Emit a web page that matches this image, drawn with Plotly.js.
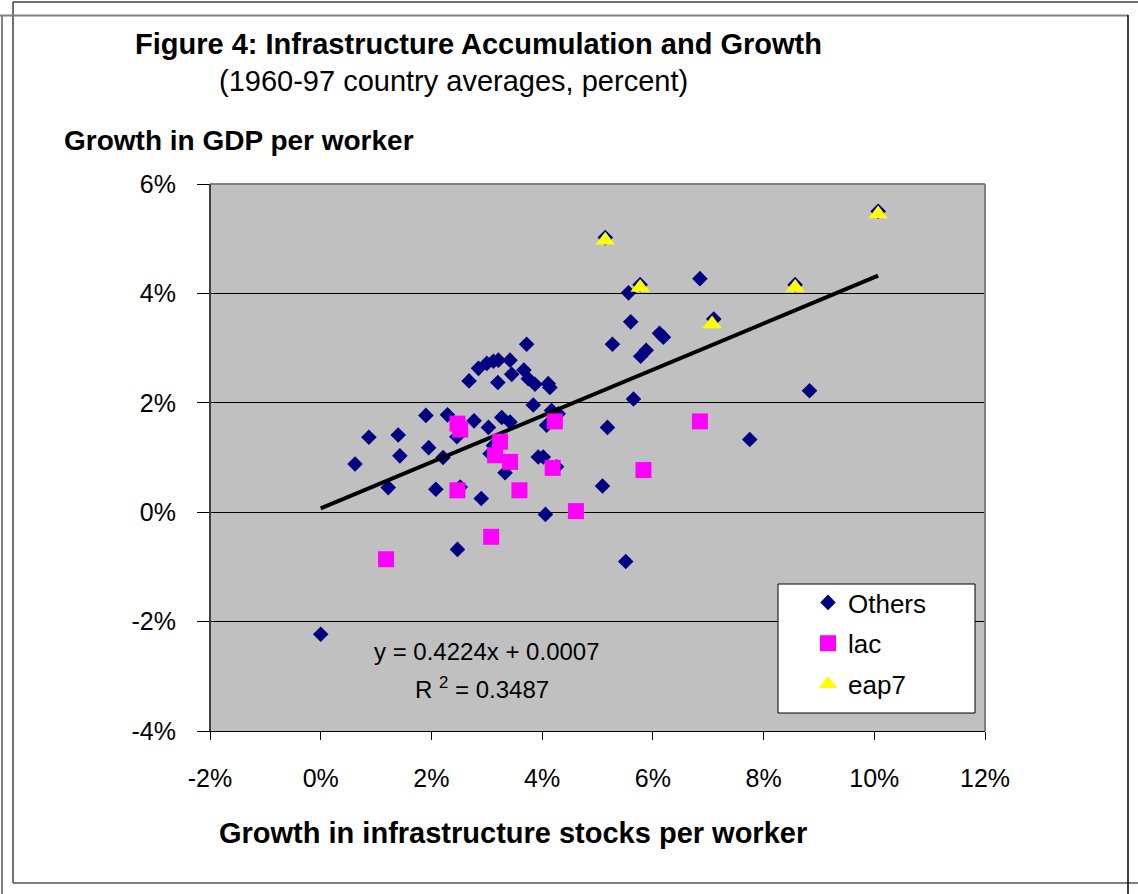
<!DOCTYPE html>
<html>
<head>
<meta charset="utf-8">
<script src="https://cdn.plot.ly/plotly-3.0.1.min.js"></script>
<style>
html,body{margin:0;padding:0;background:#fff;}
#chart{width:1138px;height:894px;}
</style>
</head>
<body>
<div id="chart"></div>
<script>
// ---- data (percent) ----
const othersX = [0.00,0.62,0.87,1.22,1.40,1.43,1.90,1.95,2.08,2.21,2.29,2.46,2.52,2.47,2.68,2.77,2.85,2.90,3.00,3.03,3.06,3.12,3.12,3.21,3.20,3.27,3.33,3.42,3.42,3.45,3.67,3.72,3.75,3.84,3.87,3.93,4.02,4.06,4.08,4.11,4.14,4.17,4.26,4.29,5.09,5.18,5.27,5.51,5.56,5.60,5.65,5.78,5.88,6.12,6.19,6.85,7.10,7.75,8.83,5.14,5.77,8.57,10.07];
const othersY = [-2.23,0.88,1.37,0.45,1.41,1.03,1.77,1.18,0.42,1.00,1.78,1.38,0.46,-0.68,2.40,1.67,2.63,0.25,2.72,1.55,1.07,1.22,2.76,2.78,2.37,1.73,0.72,2.78,1.65,2.52,2.60,3.07,2.44,1.96,2.34,1.01,1.01,-0.04,1.59,2.35,2.28,1.86,0.83,1.80,0.48,1.55,3.07,-0.90,4.01,3.48,2.07,2.85,2.96,3.27,3.20,4.27,3.53,1.33,2.22,5.02,4.16,4.16,5.50];
const lacX = [1.18,2.47,2.52,2.47,3.08,3.15,3.24,3.42,3.59,4.19,4.23,4.61,5.83,6.85];
const lacY = [-0.86,1.62,1.51,0.40,-0.45,1.04,1.29,0.92,0.40,0.81,1.66,0.02,0.77,1.66];
const eapX = [5.14,5.77,7.07,8.57,10.07];
const eapY = [4.97,4.11,3.44,4.11,5.45];
const trendSlope = 0.4224;
const trendIntercept = 0.07; // 0.0007 as a fraction = 0.07 percent
const trendX = [0, 10.07];
const trendY = trendX.map(v => trendSlope * v + trendIntercept);
const xTickVals = [-2,0,2,4,6,8,10,12];
const xTickText = ['-2%','0%','2%','4%','6%','8%','10%','12%'];
const yTickVals = [-4,-2,0,2,4,6];
const yTickText = ['-4%','-2%','0%','2%','4%','6%'];
const seriesNames = ['Others','lac','eap7'];

// ---- layout helpers (pixel -> paper) ----
const W = 1138, H = 894, L = 210, R = 153, T = 184, B = 163;
const PW = W - L - R, PH = H - T - B;
const px = v => (v - L) / PW;
const py = v => (H - B - v) / PH;
const FONT = '"Liberation Sans", Arial, sans-serif';

const traces = [
  {x: othersX, y: othersY, name: seriesNames[0], legendgroup: 'g1', type: 'scatter', mode: 'markers',
   marker: {symbol: 'diamond', color: '#000080', size: 12, line: {width: 0}}},
  {x: trendX, y: trendY, type: 'scatter', mode: 'lines', showlegend: false, hoverinfo: 'skip', legendgroup: 'g0',
   line: {color: '#000000', width: 4}},
  {x: lacX, y: lacY, name: seriesNames[1], legendgroup: 'g2', type: 'scatter', mode: 'markers',
   marker: {symbol: 'square', color: '#ff00ff', size: 16, line: {width: 0}}},
  {x: eapX, y: eapY, name: seriesNames[2], legendgroup: 'g3', type: 'scatter', mode: 'markers',
   marker: {symbol: 'triangle-up', color: '#ffff00', size: 17, line: {width: 0}}}
];

const layout = {
  width: W, height: H, autosize: false,
  margin: {l: L, r: R, t: T, b: B, pad: 0},
  paper_bgcolor: '#ffffff', plot_bgcolor: '#c0c0c0',
  font: {family: FONT, color: '#000', size: 26},
  showlegend: true,
  legend: {x: px(778), y: py(579), xanchor: 'left', yanchor: 'top', xref: 'paper', yref: 'paper',
           bgcolor: 'rgba(0,0,0,0)', borderwidth: 0, font: {family: FONT, size: 26, color: '#000'},
           indentation: 30, traceorder: 'grouped', tracegroupgap: 4, itemclick: false},
  xaxis: {range: [-2, 12], tickmode: 'array', tickvals: xTickVals, ticktext: xTickText,
          showgrid: false, zeroline: false, showline: true, linecolor: '#000', linewidth: 1,
          ticks: 'outside', ticklen: 8, tickcolor: '#000', tickwidth: 1,
          ticklabelstandoff: 17, tickfont: {family: FONT, size: 25, color: '#000'}},
  yaxis: {range: [-4, 6], tickmode: 'array', tickvals: yTickVals, ticktext: yTickText,
          showgrid: true, gridcolor: '#000', gridwidth: 1, zeroline: false,
          showline: true, linecolor: '#000', linewidth: 1,
          ticks: 'outside', ticklen: 12, tickcolor: '#000', tickwidth: 1,
          ticklabelstandoff: 16, tickfont: {family: FONT, size: 25, color: '#000'}},
  shapes: [
    // plot area border top/right (gray), left axis darker
    {type: 'line', xref: 'paper', yref: 'paper', x0: 0, x1: 1, y0: 1, y1: 1, line: {color: '#808080', width: 2}, layer: 'above'},
    {type: 'line', xref: 'paper', yref: 'paper', x0: 1, x1: 1, y0: 0, y1: 1, line: {color: '#808080', width: 2}, layer: 'above'},
    {type: 'line', xref: 'paper', yref: 'paper', x0: 0, x1: 0, y0: 0, y1: 1, line: {color: '#404040', width: 2}, layer: 'above'},
    // legend box
    {type: 'rect', xref: 'paper', yref: 'paper', x0: px(778), x1: px(975), y0: py(713), y1: py(584),
     fillcolor: '#ffffff', line: {color: '#000', width: 1}, layer: 'above'},
    // outer frames
    {type: 'line', xref: 'paper', yref: 'paper', x0: px(13), x1: px(1138), y0: py(2), y1: py(2), line: {color: '#404040', width: 1.5}},
    {type: 'line', xref: 'paper', yref: 'paper', x0: px(13), x1: px(13), y0: py(2), y1: py(883), line: {color: '#404040', width: 1.5}},
    {type: 'line', xref: 'paper', yref: 'paper', x0: px(0), x1: px(1128), y0: py(15.5), y1: py(15.5), line: {color: '#808080', width: 2}},
    {type: 'line', xref: 'paper', yref: 'paper', x0: px(2), x1: px(2), y0: py(15), y1: py(894), line: {color: '#808080', width: 2}},
    {type: 'line', xref: 'paper', yref: 'paper', x0: px(13), x1: px(1138), y0: py(883), y1: py(883), line: {color: '#808080', width: 2}},
    {type: 'line', xref: 'paper', yref: 'paper', x0: px(1128), x1: px(1128), y0: py(15), y1: py(894), line: {color: '#000', width: 1.5}}
  ],
  annotations: [
    {text: '<b>Figure 4: Infrastructure Accumulation and Growth</b>', xref: 'paper', yref: 'paper',
     x: px(133), y: py(44), xanchor: 'left', yanchor: 'middle', showarrow: false, font: {size: 29}},
    {text: '(1960-97 country averages, percent)', xref: 'paper', yref: 'paper',
     x: px(217), y: py(81), xanchor: 'left', yanchor: 'middle', showarrow: false, font: {size: 29}},
    {text: '<b>Growth in GDP per worker</b>', xref: 'paper', yref: 'paper',
     x: px(62), y: py(140), xanchor: 'left', yanchor: 'middle', showarrow: false, font: {size: 28}},
    {text: '<b>Growth in infrastructure stocks per worker</b>', xref: 'paper', yref: 'paper',
     x: px(513), y: py(833), xanchor: 'center', yanchor: 'middle', showarrow: false, font: {size: 29}},
    {text: 'y = 0.4224x + 0.0007', xref: 'paper', yref: 'paper',
     x: px(487), y: py(651), xanchor: 'center', yanchor: 'middle', showarrow: false, font: {size: 24}},
    {text: 'R <sup>2</sup> = 0.3487', xref: 'paper', yref: 'paper',
     x: px(482), y: py(688), xanchor: 'center', yanchor: 'middle', showarrow: false, font: {size: 24}}
  ]
};

Plotly.newPlot('chart', traces, layout, {staticPlot: true, displayModeBar: false});
</script>
</body>
</html>
